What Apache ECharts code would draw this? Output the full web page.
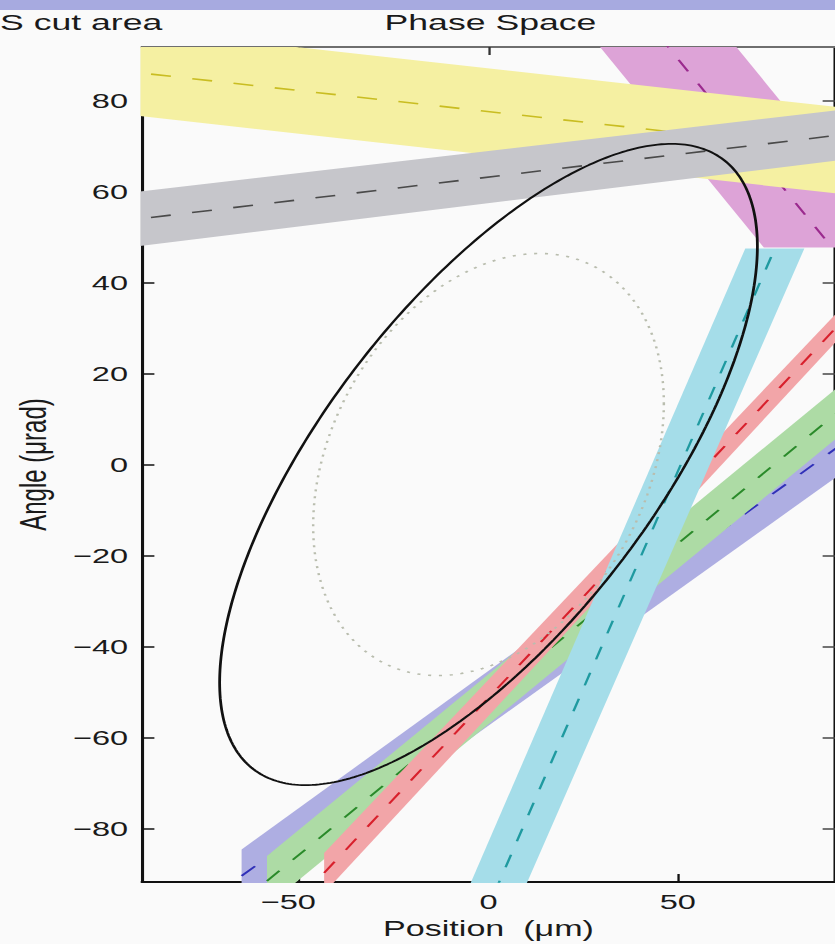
<!DOCTYPE html>
<html>
<head>
<meta charset="utf-8">
<script src="https://cdn.jsdelivr.net/npm/echarts@6/dist/echarts.min.js"></script>
<style>
  html, body { margin: 0; padding: 0; background: #fafafa; }
  #frame { width: 835px; height: 944px; overflow: hidden; position: relative; background: #fafafa; }
  /* the figure is drawn at its native width and widened horizontally */
  #chart { width: 539px; height: 944px; transform: scaleX(1.5492); transform-origin: 0 0; }
</style>
</head>
<body>
<div id="frame"><div id="chart"></div></div>
<script>
// ---- axes ----
const xRange = [-91.5, 91.5];     // position, µm
const yRange = [-91.8, 91.8];     // angle, µrad
const xTicks = [-50, 0, 50];
const yTicks = [-80, -60, -40, -20, 0, 20, 40, 60, 80];

// ---- measurement bands: centre line end points [position, angle] and half width ----
// half widths in angle units (vertical offset) unless noted
const blueCentre    = [[-65.2, -90.45], [100, 8.5]];
const blueHalf      = [5.8, 6.4];
const greenCentre   = [[-58.5, -91.6], [100, 16.8]];
const greenHalf     = [5.5, 5.5];
const redCentre     = [[-43.4, -89.8], [100, 37.4]];
const redHalf       = [4.4, 3.0];
const cyanCentre    = [[-1.46, -100], [75.6, 47.5]];
const cyanHalf      = [7.4, 7.8];          // position units (horizontal offset)
const magentaCentre = [[29.6, 110], [90.7, 47.7]];
const magentaHalf   = [18, 18];            // position units (horizontal offset)
const yellowCentre  = [[-100, 86.84], [100, 68.36]];
const yellowHalf    = [9.5, 9.5];
const greyCentre    = [[-100, 53.23], [100, 73.17]];
const greyHalf      = [6.0, 5.5];

// ---- beam ellipses: max position, max angle, position–angle correlation ----
const beamEllipse   = [71.0, 70.5, 0.68];
const designEllipse = [46.3, 46.4, 0.29];

// ---- styling ----
const FONT = '"Liberation Sans", Arial, Helvetica, sans-serif';
const bandList = [
  { centre: blueCentre,    half: blueHalf,    offset: 'angle',    fill: '#aeaee2', dash: '#3030b8' },
  { centre: greenCentre,   half: greenHalf,   offset: 'angle',    fill: '#addba5', dash: '#2a8a2a' },
  { centre: redCentre,     half: redHalf,     offset: 'angle',    fill: '#f2a5a8', dash: '#d8202c' },
  { centre: cyanCentre,    half: cyanHalf,    offset: 'position', fill: '#a5dde9', dash: '#1f9aa0' },
  { centre: magentaCentre, half: magentaHalf, offset: 'position', fill: '#dda3d7', dash: '#9b2a8e' },
  { centre: yellowCentre,  half: yellowHalf,  offset: 'angle',    fill: '#f5f0a2', dash: '#c9bd22' },
  { centre: greyCentre,    half: greyHalf,    offset: 'angle',    fill: '#c6c6cb', dash: '#4a4a4a' }
];

function ellipsePoints(e) {
  const [sx, sy, r] = e;
  const phi = Math.acos(r);
  const pts = [];
  for (let i = 0; i <= 360; i++) {
    const t = i * Math.PI / 180;
    pts.push([sx * Math.cos(t), sy * Math.cos(t + phi)]);
  }
  return pts;
}

function bandRenderer(b) {
  return function (params, api) {
    const [p0, p1] = b.centre;
    const off = (h) => b.offset === 'position' ? [h, 0] : [0, h];
    const o0 = off(b.half[0]), o1 = off(b.half[1]);
    const pts = [
      [p0[0] + o0[0], p0[1] + o0[1]],
      [p1[0] + o1[0], p1[1] + o1[1]],
      [p1[0] - o1[0], p1[1] - o1[1]],
      [p0[0] - o0[0], p0[1] - o0[1]]
    ].map(p => api.coord(p));
    const cs = params.coordSys;
    return {
      type: 'group',
      clipPath: { type: 'rect', shape: { x: cs.x - 1, y: cs.y, width: cs.width + 1, height: cs.height + 1 } },
      children: [{ type: 'polygon', shape: { points: pts }, style: { fill: b.fill, stroke: null } }]
    };
  };
}

const series = [];
let z = 2;
bandList.forEach(b => {
  series.push({
    type: 'custom',
    clip: false,
    z: z++,
    silent: true,
    renderItem: bandRenderer(b),
    data: [[b.centre[0][0], b.centre[0][1], b.centre[1][0], b.centre[1][1]]],
    encode: { x: [0, 2], y: [1, 3] }
  });
  series.push({
    type: 'line',
    z: z++,
    silent: true,
    symbol: 'none',
    clip: true,
    data: b.centre,
    lineStyle: { color: b.dash, width: 1.6, type: [13, 14] }
  });
});
series.push({
  type: 'line', z: z++, silent: true, symbol: 'none', clip: true,
  data: ellipsePoints(designEllipse),
  lineStyle: { color: '#b9bdae', width: 1.6, type: [2, 5] }
});
series.push({
  type: 'line', z: z++, silent: true, symbol: 'none', clip: true,
  data: ellipsePoints(beamEllipse),
  lineStyle: { color: '#111111', width: 1.8 }
});

const minusFmt = v => String(v).replace('-', '\u2212');
// negative position labels keep their digits centred on the tick
const xLabelFmt = v => v < 0 ? '{neg|' + minusFmt(v) + '}' : minusFmt(v);
const labelStyle = { color: '#1a1a1a', fontFamily: FONT, fontSize: 21 };

const chart = echarts.init(document.getElementById('chart'), null, { renderer: 'svg' });
chart.setOption({
  backgroundColor: '#fafafa',
  animation: false,
  grid: { left: 91.66, right: -2.6, top: 47, bottom: 62, containLabel: false },
  xAxis: [
    {
      type: 'value', position: 'bottom', min: xRange[0], max: xRange[1],
      name: 'Position  (\u03bcm)', nameLocation: 'middle', nameGap: 33,
      nameTextStyle: { color: '#1a1a1a', fontFamily: FONT, fontSize: 22 },
      axisLine: { show: true, onZero: false, lineStyle: { color: '#111', width: 2 } },
      axisTick: { show: true, inside: true, length: 8, customValues: xTicks, lineStyle: { color: '#111', width: 1.5 } },
      axisLabel: {
        show: true, customValues: xTicks, margin: 9, formatter: xLabelFmt, ...labelStyle,
        rich: { neg: { ...labelStyle, padding: [0, 14, 0, 0] } }
      },
      splitLine: { show: false }
    },
    {
      type: 'value', position: 'top', min: xRange[0], max: xRange[1],
      axisLine: { show: true, onZero: false, lineStyle: { color: '#6e6e6e', width: 2 } },
      axisTick: { show: true, inside: true, length: 8, customValues: xTicks, lineStyle: { color: '#333', width: 1.5 } },
      axisLabel: { show: false },
      splitLine: { show: false }
    }
  ],
  yAxis: [
    {
      type: 'value', position: 'left', min: yRange[0], max: yRange[1],
      name: 'Angle (\u03bcrad)', nameLocation: 'middle', nameGap: 58,
      nameTextStyle: { color: '#1a1a1a', fontFamily: FONT, fontSize: 24 },
      axisLine: { show: true, onZero: false, lineStyle: { color: '#111', width: 2 } },
      axisTick: { show: true, inside: true, length: 8, customValues: yTicks, lineStyle: { color: '#111', width: 1.5 } },
      axisLabel: { show: true, customValues: yTicks, margin: 9, formatter: minusFmt, ...labelStyle },
      splitLine: { show: false }
    },
    {
      type: 'value', position: 'right', min: yRange[0], max: yRange[1],
      axisLine: { show: true, onZero: false, lineStyle: { color: '#111', width: 2 } },
      axisTick: { show: true, inside: true, length: 8, customValues: yTicks, lineStyle: { color: '#444', width: 1.5 } },
      axisLabel: { show: false },
      splitLine: { show: false }
    }
  ],
  graphic: [
    { type: 'rect', left: 0, top: 0, z: 100, shape: { width: 539, height: 10 }, style: { fill: '#a7aae0' } },
    { type: 'text', x: 0, y: 22, z: 100,
      style: { text: 'S cut area', fill: '#1a1a1a', font: '23px ' + FONT, textVerticalAlign: 'middle', textAlign: 'left' } },
    { type: 'text', x: 316.6, y: 22, z: 100,
      style: { text: 'Phase Space', fill: '#1a1a1a', font: '23px ' + FONT, textVerticalAlign: 'middle', textAlign: 'center' } }
  ],
  series: series
});
</script>
</body>
</html>
